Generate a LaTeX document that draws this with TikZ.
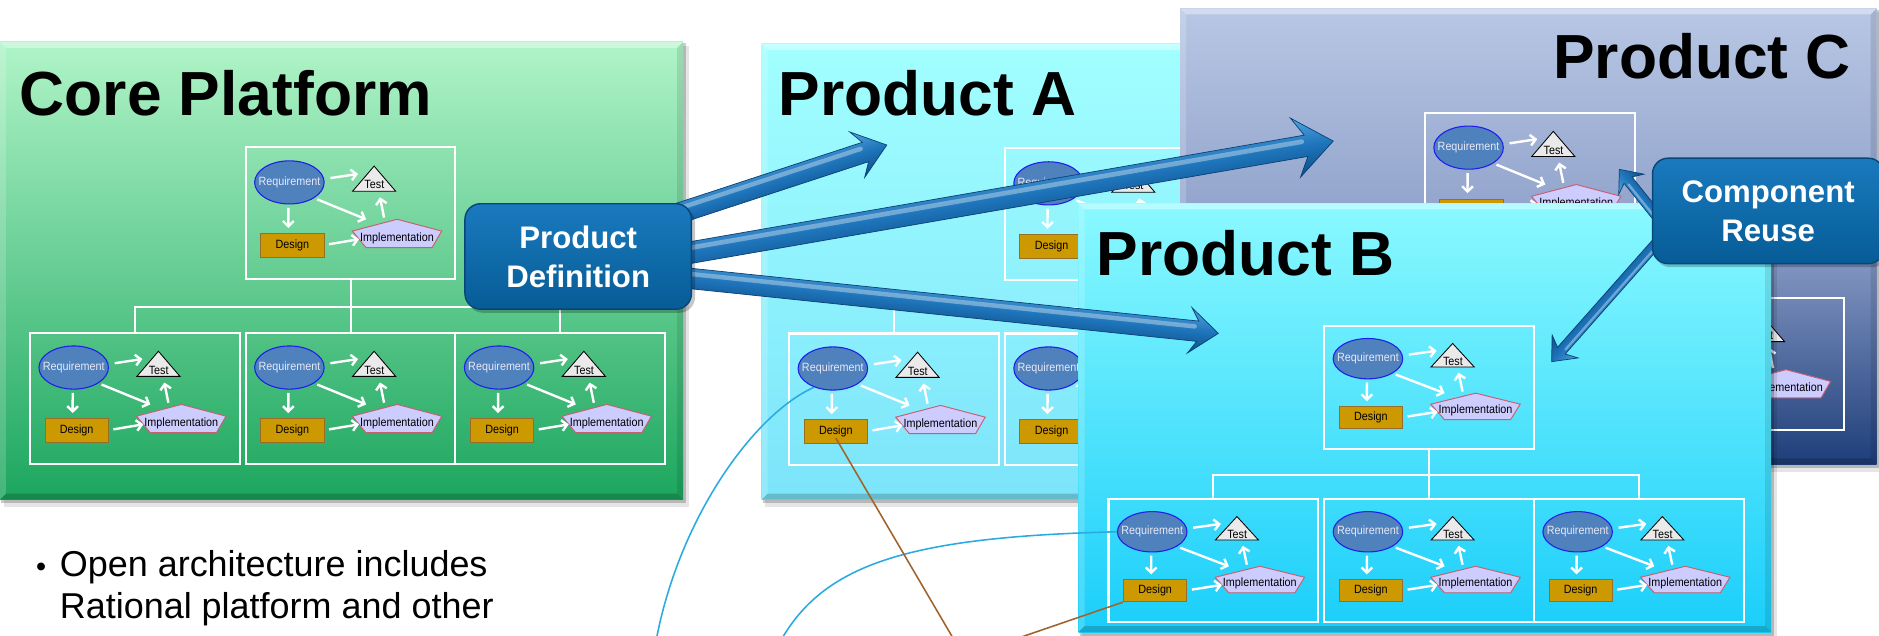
\documentclass[tikz,border=0pt]{standalone}
\usepackage{fontspec}
\setmainfont{Liberation Sans}
\newfontfamily\diagnarrow[FakeStretch=0.9]{Liberation Sans}
\usetikzlibrary{calc,shapes.geometric,arrows.meta}

\definecolor{coreTop}{RGB}{176,244,200}
\definecolor{coreBot}{RGB}{28,166,94}
\definecolor{aTop}{RGB}{162,255,255}
\definecolor{aBot}{RGB}{124,228,250}
\definecolor{cTop}{RGB}{184,199,228}
\definecolor{cMid}{RGB}{142,160,202}
\definecolor{cBot}{RGB}{30,62,122}
\definecolor{bTop}{RGB}{138,249,255}
\definecolor{bBot}{RGB}{26,206,250}
\definecolor{reqFill}{RGB}{79,129,189}
\definecolor{reqEdge}{RGB}{30,30,235}
\definecolor{reqText}{RGB}{232,232,245}
\definecolor{tstFill}{RGB}{234,234,234}
\definecolor{desFill}{RGB}{204,153,0}
\definecolor{desEdge}{RGB}{150,110,40}
\definecolor{impFill}{RGB}{204,204,255}
\definecolor{impEdge}{RGB}{200,96,112}
\definecolor{fatLight}{RGB}{84,164,222}
\definecolor{fatMid}{RGB}{30,116,186}
\definecolor{fatDark}{RGB}{14,78,136}
\definecolor{fatEdge}{RGB}{10,66,118}
\definecolor{calTop}{RGB}{26,122,190}
\definecolor{calBot}{RGB}{6,92,150}
\definecolor{calEdge}{RGB}{8,70,122}
\definecolor{wireBlue}{RGB}{41,171,226}
\definecolor{wireBrown}{RGB}{160,100,42}

\newcommand\diagsmallfont{\diagnarrow\fontsize{10}{11}\selectfont}

\tikzset{
  minibox/.style={draw=white, line width=1.7pt, inner sep=0pt, minimum width=175pt},
  treeline/.style={white, line width=1.7pt},
  reqnode/.style={ellipse, draw=reqEdge, line width=0.9pt, fill=reqFill, inner sep=0pt,
    minimum width=58pt, text=reqText, font=\diagsmallfont},
  desnode/.style={rectangle, draw=desEdge, line width=0.8pt, fill=desFill, inner sep=0pt,
    minimum width=52.8pt, font=\diagsmallfont},
  minitext/.style={inner sep=0pt, font=\diagsmallfont},
  tstshape/.style={draw=black, line width=0.7pt, fill=tstFill},
  impshape/.style={draw=impEdge, line width=0.8pt, fill=impFill},
  miniarrow/.style={white, line width=2pt, -{Straight Barb[length=4.4pt,width=9pt]}},
  title/.style={inner sep=0pt, anchor=base west, font=\bfseries\fontsize{52}{60}\selectfont},
  callout/.style={rounded corners=13pt, top color=calTop, bottom color=calBot, draw=calEdge,
    line width=1.2pt, text=white, align=center, font=\bfseries\fontsize{26}{32.5}\selectfont},
  bluewire/.style={wireBlue, line width=1.3pt},
  brownwire/.style={wireBrown, line width=1.3pt},
  bullettext/.style={inner sep=0pt, anchor=base west, font=\fontsize{30}{35}\selectfont},
}

% bevelled panel with a soft drop shadow: x1, y1, x2, y2, shading options
\newcommand\panel[5]{%
  \fill[black, opacity=0.10] (#1+3,#2+3) rectangle (#3+5,#4+6);
  \fill[black, opacity=0.20] (#1+1,#2+1) rectangle (#3+2.5,#4+3);
  \shade[#5] (#1,#2) rectangle (#3,#4);
  \fill[white, opacity=0.38] (#1,#2) -- (#3,#2) -- (#3-5,#2+5) -- (#1+5,#2+5) -- cycle;
  \fill[white, opacity=0.18] (#1,#2) -- (#1+5,#2+5) -- (#1+5,#4-5) -- (#1,#4) -- cycle;
  \fill[black, opacity=0.10] (#3,#2) -- (#3,#4) -- (#3-5,#4-5) -- (#3-5,#2+5) -- cycle;
  \fill[black, opacity=0.18] (#1,#4) -- (#3,#4) -- (#3-5,#4-5) -- (#1+5,#4-5) -- cycle;
}

% white frame only (its contents lie behind another panel)
\newcommand\miniframe[4]{%
  \begin{scope}[shift={(#2,#3)}, yscale=#4]
    \node[minibox, minimum height={110pt*#4}] (#1box) at (87.5,55) {};
  \end{scope}}

% one small requirement/design/implementation/test diagram in a white frame
% [implementation label], name prefix, x, y, vertical scale
\newcommand\minidiag[5][Implementation]{%
  \begin{scope}[shift={(#3,#4)}, yscale=#5]
    \node[minibox, minimum height={110pt*#5}] (#2box) at (87.5,55) {};
    \node[reqnode, minimum height={36pt*#5}] (#2req) at (36.5,29.2) {\makebox[0pt]{Requirement}};
    \node[desnode, minimum height={19.5pt*#5}] (#2des) at (39,81.8) {Design};
    \draw[tstshape] (107.2,15.6) -- (125.2,36.6) -- (89.2,36.6) -- cycle;
    \node[minitext] (#2tst) at (107.4,31.3) {Test};
    \draw[impshape] (126.4,60) -- (163.6,69.8) -- (155.6,83.6) -- (100.4,83.6) -- (89,69.8) -- cycle;
    \node[minitext] (#2imp) at (126.3,75.6) {#1};
    \draw[miniarrow] ([shift={(34.2,-3.6)}]#2req.center) -- ([shift={(-13.6,-9.2)}]#2tst.center);
    \draw[miniarrow] ([shift={(-0.8,21.2)}]#2req.center) -- ([shift={(-3.4,-14.6)}]#2des.center);
    \draw[miniarrow] ([shift={(23.3,14.2)}]#2req.center) -- ([shift={(-25.8,-15.6)}]#2imp.center);
    \draw[miniarrow] ([shift={(30.6,-1)}]#2des.center) -- ([shift={(-31.7,1)}]#2imp.center);
    \draw[miniarrow] ([shift={(-10.8,-17)}]#2imp.center) -- ([shift={(4.7,10.4)}]#2tst.center);
  \end{scope}}

% a top diagram feeding three diagrams below it;
% [top implementation label], name, x, y, scale, then flags for the lower diagrams' contents
\newcommand\family[8][Implementation]{%
  \minidiag[#1]{#2t}{#3}{#4}{#5}
  \ifnum#6=1 \minidiag{#2a}{#3-180}{#4+154.5*#5}{#5}\else\miniframe{#2a}{#3-180}{#4+154.5*#5}{#5}\fi
  \ifnum#7=1 \minidiag{#2b}{#3}{#4+154.5*#5}{#5}\else\miniframe{#2b}{#3}{#4+154.5*#5}{#5}\fi
  \ifnum#8=1 \minidiag{#2c}{#3+175}{#4+154.5*#5}{#5}\else\miniframe{#2c}{#3+175}{#4+154.5*#5}{#5}\fi
  \draw[treeline] (#2tbox.south) -- ++(0,{22.5*#5}) coordinate (#2hub);
  \draw[treeline] (#2hub) -| (#2abox.north);
  \draw[treeline] (#2hub) -| (#2cbox.north);
  \draw[treeline] (#2hub) -- (#2bbox.north);
}

% thick tube arrow: tail, tip, shaft width, head width, head length
\newcommand\fatarrow[5]{%
  \path let \p1=(#1), \p2=(#2) in \pgfextra{%
    \pgfmathsetmacro\faang{atan2(\y2-\y1,\x2-\x1)}%
    \pgfmathsetmacro\falen{veclen(\x2-\x1,\y2-\y1)}%
    \xdef\FAang{\faang}\xdef\FAlen{\falen}%
    \xdef\FAx{\x1}\xdef\FAy{\y1}};
  \begin{scope}[transform canvas={shift={(\FAx,\FAy)},rotate=\FAang}]
    \pgfmathsetmacro\fah{#3/2}\pgfmathsetmacro\faH{#4/2}%
    \pgfmathsetmacro\fab{\FAlen-#5}\pgfmathsetmacro\fan{\FAlen-0.72*#5}%
    \pgfmathsetmacro\fahl{#3*0.22}%
    \shade[top color=fatLight, bottom color=fatDark, middle color=fatMid, draw=fatEdge, line width=0.6pt]
      (0,-\fah) -- (\fan,-\fah) -- (\fab,-\faH) -- (\FAlen,0) -- (\fab,\faH) -- (\fan,\fah) -- (0,\fah) -- cycle;
    \draw[line width=\fahl pt, white, opacity=0.35, line cap=round] (3,-\fahl) -- (\fan-3,-\fahl);
  \end{scope}}

\begin{document}
\begin{tikzpicture}[x=1pt,y=-1pt]
\useasboundingbox (0,0) rectangle (1568,530);
\fill[white] (0,0) rectangle (1568,530);

% core platform
\panel{0}{35}{570}{417}{top color=coreTop, bottom color=coreBot}
\node[title] (coreT) at (16.3,96) {Core Platform};
\family{cp}{205}{123}{1}{1}{1}{1}

% product A (its top implementation lies under product B)
\panel{635.5}{36.7}{1190}{417}{top color=aTop, bottom color=aBot}
\node[title] (prodAT) at (649.6,96) {Product A};
\family[\phantom{Implementation}]{pa}{838.5}{123.8}{1}{1}{1}{0}

% product C
\panel{984.7}{7}{1566}{387.5}{top color=cTop, bottom color=cBot, middle color=cMid}
\node[title] (prodCT) at (1296,65.9) {Product C};
\family{pc}{1189}{94}{1}{0}{0}{1}

% product B
\panel{900}{169.7}{1478}{527.5}{top color=bTop, bottom color=bBot}
\node[title] (prodBT) at (914.8,229.6) {Product B};
\family{pb}{1105}{272}{0.935}{1}{1}{1}

% product definition arrows
\coordinate (pdA) at (560,180);
\coordinate (pdC) at (560,213.6);
\coordinate (pdB) at (560,230.7);
\coordinate (tipA) at (740,121);
\coordinate (tipC) at (1112.6,117.7);
\coordinate (tipB) at (1016.7,278.2);
\fatarrow{pdA}{tipA}{17}{40}{26}
\fatarrow{pdC}{tipC}{18}{50}{32}
\fatarrow{pdB}{tipB}{17}{38}{24}
\fill[black, opacity=0.22, rounded corners=13pt] (390,173) rectangle (580,261);
\node[callout, minimum width=189pt, minimum height=88pt] (pd) at (482.5,214) {Product\\Definition};

% component reuse arrows
\coordinate (crT) at (1392,192);
\coordinate (tipCR1) at (1351.3,141.3);
\coordinate (tipCR2) at (1294.8,301.8);
\fatarrow{crT}{tipCR1}{8.5}{27}{16}
\fatarrow{crT}{tipCR2}{8.5}{29}{17}
\fill[black, opacity=0.22, rounded corners=13pt] (1381,135) rectangle (1575,223);
\node[callout, minimum width=193pt, minimum height=88pt] (cr) at (1475.5,176) {Component\\Reuse};

% bullet text
\node[bullettext] (dot) at (30,481) {\fontsize{24}{30}\selectfont •};
\node[bullettext] (line1) at (49.8,481) {Open architecture includes};
\node[bullettext] (line2) at (49.8,516) {Rational platform and other};

% trace links
\coordinate (w1) at (548,532);
\coordinate (w2) at (653,532);
\coordinate (w3) at (795,532);
\coordinate (w4) at (851,532);
\draw[bluewire] (paareq.225) .. controls (630,345) and (568,430) .. (w1);
\draw[bluewire] (pbareq.west) .. controls (760,448) and (690,470) .. (w2);
\draw[brownwire] ([shift={(0,5.5)}]paades.center) -- (w3);
\draw[brownwire] (pbades.south west) -- (w4);
\end{tikzpicture}
\end{document}
